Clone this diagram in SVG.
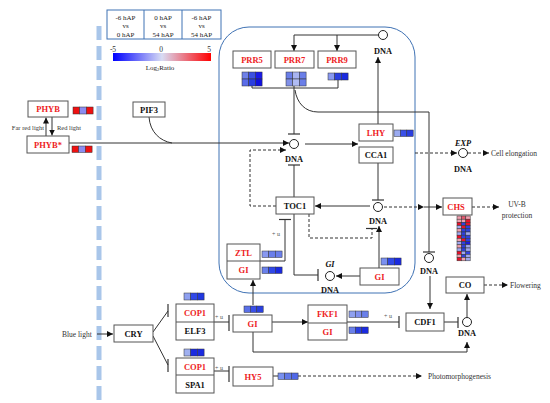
<svg xmlns="http://www.w3.org/2000/svg" width="550" height="403" viewBox="0 0 550 403">
<defs>
<marker id="ar" markerUnits="userSpaceOnUse" markerWidth="6" markerHeight="6" refX="6" refY="3" orient="auto"><path d="M0,0 L6,3 L0,6 z" fill="#111"/></marker>
<linearGradient id="grad" x1="0" y1="0" x2="1" y2="0"><stop offset="0" stop-color="#0000ff"/><stop offset="0.5" stop-color="#d8dcf4"/><stop offset="1" stop-color="#ff0000"/></linearGradient>
<style>
.box{fill:#fff;stroke:#555;stroke-width:1}
.t{font-family:"Liberation Serif",serif;font-weight:bold;font-size:8.5px;text-anchor:middle;fill:#111}
.r{fill:#ee1c24}
.dna{font-family:"Liberation Serif",serif;font-weight:bold;font-size:8.3px;text-anchor:middle;fill:#111}
.sm{font-family:"Liberation Serif",serif;font-size:7.5px;fill:#333}
.sf{font-family:"Liberation Serif",serif;font-size:6.5px;fill:#333}
.u{font-family:"Liberation Serif",serif;font-size:6px;fill:#555}
.lg{font-family:"Liberation Serif",serif;font-size:7px;text-anchor:middle;fill:#222}
.c{fill:none;stroke:#333;stroke-width:1}
.d{fill:none;stroke:#333;stroke-width:1;stroke-dasharray:3,2}
.tb{stroke:#333;stroke-width:1.2}
.hm rect{stroke:#333;stroke-width:0.5}
.circ{fill:#fff;stroke:#222;stroke-width:1}
</style>
</defs>
<rect width="550" height="403" fill="#fff"/>
<line x1="99" y1="26" x2="99" y2="403" stroke="#a9c6ea" stroke-width="5" stroke-dasharray="14,6"/>
<rect x="219" y="27" width="196" height="266" rx="30" fill="none" stroke="#3f72b4" stroke-width="1"/>

<g id="legend">
<rect x="107" y="10" width="114" height="29" fill="#fff" stroke="#3f72b4"/>
<line x1="144" y1="10" x2="144" y2="39" stroke="#3f72b4"/>
<line x1="182" y1="10" x2="182" y2="39" stroke="#3f72b4"/>
<text class="lg" x="125.5" y="19.5">-6 hAP</text><text class="lg" x="125.5" y="28">vs</text><text class="lg" x="125.5" y="36.5">0 hAP</text>
<text class="lg" x="163" y="19.5">0 hAP</text><text class="lg" x="163" y="28">vs</text><text class="lg" x="163" y="36.5">54 hAP</text>
<text class="lg" x="201.5" y="19.5">-6 hAP</text><text class="lg" x="201.5" y="28">vs</text><text class="lg" x="201.5" y="36.5">54 hAP</text>
<text class="sm" x="113" y="51.5" text-anchor="middle" font-size="8">-5</text>
<text class="sm" x="161" y="51.5" text-anchor="middle" font-size="8">0</text>
<text class="sm" x="209" y="51.5" text-anchor="middle" font-size="8">5</text>
<rect x="113" y="53" width="98" height="8" fill="url(#grad)"/>
<text class="lg" x="160" y="70" font-size="6.5">Log<tspan font-size="4.5" dy="1">2</tspan><tspan dy="-1">Ratio</tspan></text>
</g>

<g id="connectors">
<line class="c" x1="46" y1="136" x2="46" y2="117.5" marker-end="url(#ar)"/>
<line class="c" x1="52" y1="117" x2="52" y2="135.5" marker-end="url(#ar)"/>
<line class="c" x1="69" y1="143" x2="289" y2="143" marker-end="url(#ar)"/>
<path class="c" d="M149,117 C150,132 160,141 172,143"/>
<line class="c" x1="294" y1="35" x2="378.5" y2="35"/>
<line class="c" x1="294" y1="35" x2="294" y2="51" marker-end="url(#ar)"/>
<line class="c" x1="337" y1="35" x2="337" y2="51" marker-end="url(#ar)"/>
<line class="c" x1="378" y1="124" x2="378" y2="57" marker-end="url(#ar)"/>
<polyline class="c" points="252,86 252,88 338,88 338,80"/>
<line class="c" x1="294" y1="86" x2="294" y2="134"/>
<line class="tb" x1="288" y1="134" x2="300" y2="134"/>
<path class="c" d="M295,90 C297,103 305,112 318,112 L429,112 L429,252"/>
<line class="tb" x1="423" y1="252" x2="435" y2="252"/>
<line class="c" x1="305" y1="144" x2="358" y2="144" marker-end="url(#ar)"/>
<line class="c" x1="294" y1="197" x2="294" y2="165"/>
<line class="tb" x1="288" y1="165" x2="300" y2="165"/>
<polyline class="d" points="276,206 250,206 250,150 286,150" marker-end="url(#ar)"/>
<line class="c" x1="378" y1="163" x2="378" y2="200"/>
<line class="tb" x1="372" y1="200" x2="384" y2="200"/>
<line class="c" x1="370" y1="206" x2="315" y2="206" marker-end="url(#ar)"/>
<polyline class="d" points="309,214 309,238 372,238 372,229"/>
<line class="tb" x1="366" y1="228.5" x2="377" y2="228.5"/>
<line class="c" x1="379" y1="268" x2="379" y2="226" marker-end="url(#ar)"/>
<line class="c" x1="360" y1="276" x2="336" y2="276" marker-end="url(#ar)"/>
<polyline class="c" points="294,214 294,275 318,275"/>
<line class="tb" x1="318" y1="269" x2="318" y2="281"/>
<polyline class="c" points="260,261 285,261 285,219.5"/>
<line class="tb" x1="279" y1="219.5" x2="291" y2="219.5"/>
<text class="u" x="272" y="236">+ u</text>
<line class="c" x1="253" y1="305" x2="253" y2="280" marker-end="url(#ar)"/>
<line class="d" x1="415" y1="153" x2="457" y2="153" marker-end="url(#ar)"/>
<line class="d" x1="468" y1="153" x2="489" y2="153" marker-end="url(#ar)"/>
<line class="d" x1="384" y1="207" x2="424" y2="207" marker-end="url(#ar)"/>
<line class="c" x1="424" y1="207" x2="442" y2="207" marker-end="url(#ar)"/>
<line class="d" x1="472" y1="207" x2="499" y2="207" marker-end="url(#ar)"/>
<line class="c" x1="430" y1="276" x2="430" y2="309" marker-end="url(#ar)"/>
<line class="c" x1="97" y1="334" x2="113" y2="334" marker-end="url(#ar)"/>
<line class="c" x1="153" y1="332" x2="168" y2="311"/>
<line class="tb" x1="168" y1="304" x2="168" y2="317"/>
<line class="c" x1="153" y1="336" x2="168" y2="365"/>
<line class="tb" x1="168" y1="359" x2="168" y2="372"/>
<line class="c" x1="214" y1="322" x2="229" y2="322"/>
<line class="tb" x1="229" y1="315" x2="229" y2="331"/>
<text class="u" x="215" y="318.5">+ u</text>
<line class="c" x1="214" y1="371" x2="229" y2="371"/>
<line class="tb" x1="229" y1="366" x2="229" y2="382"/>
<text class="u" x="215" y="369.5">+ u</text>
<line class="c" x1="272" y1="322" x2="308" y2="322" marker-end="url(#ar)"/>
<line class="c" x1="347" y1="322" x2="399" y2="322"/>
<line class="tb" x1="399" y1="316" x2="399" y2="328"/>
<text class="u" x="384" y="318">+ u</text>
<line class="c" x1="444" y1="322" x2="458" y2="322"/>
<line class="tb" x1="458" y1="317" x2="458" y2="328"/>
<line class="c" x1="467" y1="317" x2="467" y2="294" marker-end="url(#ar)"/>
<polyline class="c" points="253,332 253,352 467,352 467,342" marker-end="url(#ar)"/>
<line class="d" x1="484" y1="285" x2="508" y2="285" marker-end="url(#ar)"/>
<line class="c" x1="273" y1="376" x2="278" y2="376"/>
<line class="d" x1="298" y1="376" x2="422" y2="376" marker-end="url(#ar)"/>
</g>

<g id="dna">
<circle class="circ" cx="383" cy="35" r="4.5"/><text class="dna" x="383" y="54">DNA</text>
<circle class="circ" cx="294" cy="144" r="4.5"/><text class="dna" x="294" y="162">DNA</text>
<circle class="circ" cx="378" cy="207" r="4.5"/><text class="dna" x="378" y="224">DNA</text>
<circle class="circ" cx="463" cy="153" r="4.5"/><text class="dna" x="463" y="146" font-style="italic">EXP</text><text class="dna" x="463" y="172">DNA</text>
<circle class="circ" cx="330" cy="276" r="4.5"/><text class="dna" x="330" y="267" font-style="italic">GI</text><text class="dna" x="330" y="293">DNA</text>
<circle class="circ" cx="429" cy="258" r="4.5"/><text class="dna" x="429" y="274">DNA</text>
<circle class="circ" cx="467" cy="322" r="4.5"/><text class="dna" x="467" y="336">DNA</text>
</g>

<g id="labels">
<text class="sf" x="44" y="130" text-anchor="end">Far red light</text>
<text class="sf" x="57" y="130">Red light</text>
<text class="sm" x="491" y="156">Cell elongation</text>
<text class="sm" x="517" y="207" text-anchor="middle">UV-B</text>
<text class="sm" x="517" y="218" text-anchor="middle">protection</text>
<text class="sm" x="510" y="288">Flowering</text>
<text class="sm" x="428" y="379">Photomorphogenesis</text>
<text class="sm" x="62" y="337">Blue light</text>
</g>

<g id="PHYB"><rect class="box" x="28" y="101" width="40" height="16"/><text class="t r" x="48" y="112">PHYB</text>
<g class="hm"><rect x="73" y="107" width="6.7" height="7" fill="#ee1111"/><rect x="79.7" y="107" width="6.7" height="7" fill="#8c8cf0"/><rect x="86.4" y="107" width="6.7" height="7" fill="#ee1111"/></g></g>
<g id="PHYBstar"><rect class="box" x="27" y="136" width="42" height="17"/><text class="t r" x="48" y="147.5">PHYB*</text>
<g class="hm"><rect x="72" y="146" width="6.7" height="6.5" fill="#ee1111"/><rect x="78.7" y="146" width="6.7" height="6.5" fill="#8c8cf0"/><rect x="85.4" y="146" width="6.7" height="6.5" fill="#ee1111"/></g></g>
<g id="PIF3"><rect class="box" x="133" y="102" width="32" height="15"/><text class="t" x="149" y="112.5">PIF3</text></g>

<g id="PRR5"><rect class="box" x="233" y="51" width="38" height="17"/><text class="t r" x="252" y="62.5">PRR5</text>
<g class="hm"><rect x="242" y="72" width="6.7" height="7" fill="#6e80e8"/><rect x="248.7" y="72" width="6.7" height="7" fill="#3a4fe0"/><rect x="255.4" y="72" width="6.7" height="7" fill="#1a1ae8"/><rect x="242" y="79" width="6.7" height="7" fill="#5a6ce8"/><rect x="248.7" y="79" width="6.7" height="7" fill="#2a3ee0"/><rect x="255.4" y="79" width="6.7" height="7" fill="#1010e0"/></g></g>
<g id="PRR7"><rect class="box" x="275" y="51" width="39" height="17"/><text class="t r" x="294.5" y="62.5">PRR7</text>
<g class="hm"><rect x="286" y="72" width="6.7" height="7" fill="#6a7ee8"/><rect x="292.7" y="72" width="6.7" height="7" fill="#a8b4f0"/><rect x="299.4" y="72" width="6.7" height="7" fill="#6a7ee8"/><rect x="286" y="79" width="6.7" height="7" fill="#8090e8"/><rect x="292.7" y="79" width="6.7" height="7" fill="#b0bcf4"/><rect x="299.4" y="79" width="6.7" height="7" fill="#6a7ee8"/></g></g>
<g id="PRR9"><rect class="box" x="318" y="51" width="38" height="17"/><text class="t r" x="337" y="62.5">PRR9</text>
<g class="hm"><rect x="328" y="73" width="6.7" height="7" fill="#8898f0"/><rect x="334.7" y="73" width="6.7" height="7" fill="#2a3ee0"/><rect x="341.4" y="73" width="6.7" height="7" fill="#1a2ae0"/></g></g>

<g id="LHY"><rect class="box" x="359" y="124" width="34" height="17"/><text class="t r" x="376" y="135.5">LHY</text>
<g class="hm"><rect x="394" y="130" width="6.4" height="6.5" fill="#9aaaf0"/><rect x="400.4" y="130" width="6.4" height="6.5" fill="#3a50e8"/><rect x="406.8" y="130" width="6.4" height="6.5" fill="#2a3ee0"/></g></g>
<g id="CCA1"><rect class="box" x="359" y="147" width="34" height="16"/><text class="t" x="376" y="158">CCA1</text></g>
<g id="TOC1"><rect class="box" x="276" y="197" width="38" height="17"/><text class="t" x="295" y="208.5">TOC1</text></g>

<g id="ZTL_GI"><rect class="box" x="227" y="244" width="33" height="35"/><line x1="227" y1="261" x2="260" y2="261" stroke="#555"/>
<text class="t r" x="243.5" y="255.5">ZTL</text><text class="t r" x="243.5" y="273">GI</text>
<g class="hm"><rect x="262" y="251" width="6.7" height="6.5" fill="#8898f0"/><rect x="268.7" y="251" width="6.7" height="6.5" fill="#6a7eea"/><rect x="275.4" y="251" width="6.7" height="6.5" fill="#6a7eea"/>
<rect x="262" y="267" width="6.7" height="6.5" fill="#6a80ea"/><rect x="268.7" y="267" width="6.7" height="6.5" fill="#3048e8"/><rect x="275.4" y="267" width="6.7" height="6.5" fill="#1a2ae0"/></g></g>
<g id="GI_right"><rect class="box" x="360" y="268" width="39" height="17"/><text class="t r" x="379.5" y="279.5">GI</text>
<g class="hm"><rect x="381" y="258" width="6.7" height="7" fill="#7a90f0"/><rect x="387.7" y="258" width="6.7" height="7" fill="#3048e8"/><rect x="394.4" y="258" width="6.7" height="7" fill="#1a2ae0"/></g></g>

<g id="CHS"><rect class="box" x="443" y="198" width="29" height="17"/><text class="t r" x="456" y="209.5">CHS</text>
<g class="hm">
<rect x="457" y="216" width="4.4" height="3.2" fill="#f0a0b0"/><rect x="461.4" y="216" width="4.4" height="3.2" fill="#e85a70"/><rect x="465.8" y="216" width="4.4" height="3.2" fill="#f0a0b0"/>
<rect x="457" y="219.2" width="4.4" height="3.2" fill="#f0a0b0"/><rect x="461.4" y="219.2" width="4.4" height="3.2" fill="#f0a0b0"/><rect x="465.8" y="219.2" width="4.4" height="3.2" fill="#e8102a"/>
<rect x="457" y="222.4" width="4.4" height="3.2" fill="#e8102a"/><rect x="461.4" y="222.4" width="4.4" height="3.2" fill="#3040e0"/><rect x="465.8" y="222.4" width="4.4" height="3.2" fill="#e8102a"/>
<rect x="457" y="225.6" width="4.4" height="3.2" fill="#a0a8f0"/><rect x="461.4" y="225.6" width="4.4" height="3.2" fill="#e8102a"/><rect x="465.8" y="225.6" width="4.4" height="3.2" fill="#3040e0"/>
<rect x="457" y="228.8" width="4.4" height="3.2" fill="#f0a0b0"/><rect x="461.4" y="228.8" width="4.4" height="3.2" fill="#3040e0"/><rect x="465.8" y="228.8" width="4.4" height="3.2" fill="#3040e0"/>
<rect x="457" y="232" width="4.4" height="3.2" fill="#a0a8f0"/><rect x="461.4" y="232" width="4.4" height="3.2" fill="#3040e0"/><rect x="465.8" y="232" width="4.4" height="3.2" fill="#a0a8f0"/>
<rect x="457" y="235.2" width="4.4" height="3.2" fill="#e8102a"/><rect x="461.4" y="235.2" width="4.4" height="3.2" fill="#3040e0"/><rect x="465.8" y="235.2" width="4.4" height="3.2" fill="#3040e0"/>
<rect x="457" y="238.4" width="4.4" height="3.2" fill="#f0a0b0"/><rect x="461.4" y="238.4" width="4.4" height="3.2" fill="#e8102a"/><rect x="465.8" y="238.4" width="4.4" height="3.2" fill="#3040e0"/>
<rect x="457" y="241.6" width="4.4" height="3.2" fill="#a0a8f0"/><rect x="461.4" y="241.6" width="4.4" height="3.2" fill="#3040e0"/><rect x="465.8" y="241.6" width="4.4" height="3.2" fill="#1a1ae0"/>
<rect x="457" y="244.8" width="4.4" height="3.2" fill="#f0a0b0"/><rect x="461.4" y="244.8" width="4.4" height="3.2" fill="#3040e0"/><rect x="465.8" y="244.8" width="4.4" height="3.2" fill="#a0a8f0"/>
<rect x="457" y="248" width="4.4" height="3.2" fill="#a0a8f0"/><rect x="461.4" y="248" width="4.4" height="3.2" fill="#3040e0"/><rect x="465.8" y="248" width="4.4" height="3.2" fill="#a0a8f0"/>
<rect x="457" y="251.2" width="4.4" height="3.2" fill="#e8102a"/><rect x="461.4" y="251.2" width="4.4" height="3.2" fill="#a0a8f0"/><rect x="465.8" y="251.2" width="4.4" height="3.2" fill="#3040e0"/>
<rect x="457" y="254.4" width="4.4" height="3.2" fill="#f0a0b0"/><rect x="461.4" y="254.4" width="4.4" height="3.2" fill="#3040e0"/><rect x="465.8" y="254.4" width="4.4" height="3.2" fill="#a0a8f0"/>
<rect x="457" y="257.6" width="4.4" height="3.2" fill="#e8102a"/><rect x="461.4" y="257.6" width="4.4" height="3.2" fill="#f0a0b0"/><rect x="465.8" y="257.6" width="4.4" height="3.2" fill="#a0a8f0"/>
</g></g>

<g id="CO"><rect class="box" x="446" y="277" width="38" height="16"/><text class="t" x="465" y="288">CO</text></g>
<g id="CDF1"><rect class="box" x="406" y="313" width="38" height="18"/><text class="t" x="425" y="325">CDF1</text></g>
<g id="FKF1_GI"><rect class="box" x="308" y="305" width="39" height="35"/><line x1="308" y1="323" x2="347" y2="323" stroke="#555"/>
<text class="t r" x="327.5" y="317">FKF1</text><text class="t r" x="327.5" y="334.5">GI</text>
<g class="hm"><rect x="349" y="311" width="6.4" height="6.5" fill="#8fa0f0"/><rect x="355.4" y="311" width="6.4" height="6.5" fill="#8090f0"/><rect x="361.8" y="311" width="6.4" height="6.5" fill="#6a80ea"/>
<rect x="349" y="327" width="6.4" height="6.5" fill="#6a80ea"/><rect x="355.4" y="327" width="6.4" height="6.5" fill="#2a3ee0"/><rect x="361.8" y="327" width="6.4" height="6.5" fill="#1a2ae0"/></g></g>
<g id="GI_center"><rect class="box" x="233" y="315" width="39" height="17"/><text class="t r" x="252.5" y="326.5">GI</text>
<g class="hm"><rect x="244" y="306" width="6.4" height="6.5" fill="#5a70e8"/><rect x="250.4" y="306" width="6.4" height="6.5" fill="#3a50e8"/><rect x="256.8" y="306" width="6.4" height="6.5" fill="#2a40e0"/></g></g>
<g id="CRY"><rect class="box" x="114" y="325" width="39" height="17"/><text class="t" x="133.5" y="336.5">CRY</text></g>
<g id="COP1_ELF3"><rect class="box" x="176" y="304" width="38" height="36"/><line x1="176" y1="322" x2="214" y2="322" stroke="#555"/>
<text class="t r" x="195" y="316">COP1</text><text class="t" x="195" y="334">ELF3</text>
<g class="hm"><rect x="184" y="293" width="6.7" height="7" fill="#8ea0f0"/><rect x="190.7" y="293" width="6.7" height="7" fill="#3048e8"/><rect x="197.4" y="293" width="6.7" height="7" fill="#2038e0"/></g></g>
<g id="COP1_SPA1"><rect class="box" x="176" y="358" width="38" height="35"/><line x1="176" y1="375" x2="214" y2="375" stroke="#555"/>
<text class="t r" x="195" y="370">COP1</text><text class="t" x="195" y="387.5">SPA1</text>
<g class="hm"><rect x="184" y="349" width="6.7" height="7" fill="#a0b0f0"/><rect x="190.7" y="349" width="6.7" height="7" fill="#1a2ae0"/><rect x="197.4" y="349" width="6.7" height="7" fill="#1a2ae0"/></g></g>
<g id="HY5"><rect class="box" x="233" y="367" width="40" height="19"/><text class="t r" x="253" y="379.5">HY5</text>
<g class="hm"><rect x="278" y="373" width="6.7" height="6.5" fill="#7890f0"/><rect x="284.7" y="373" width="6.7" height="6.5" fill="#6078e8"/><rect x="291.4" y="373" width="6.7" height="6.5" fill="#5068e8"/></g></g>
</svg>
